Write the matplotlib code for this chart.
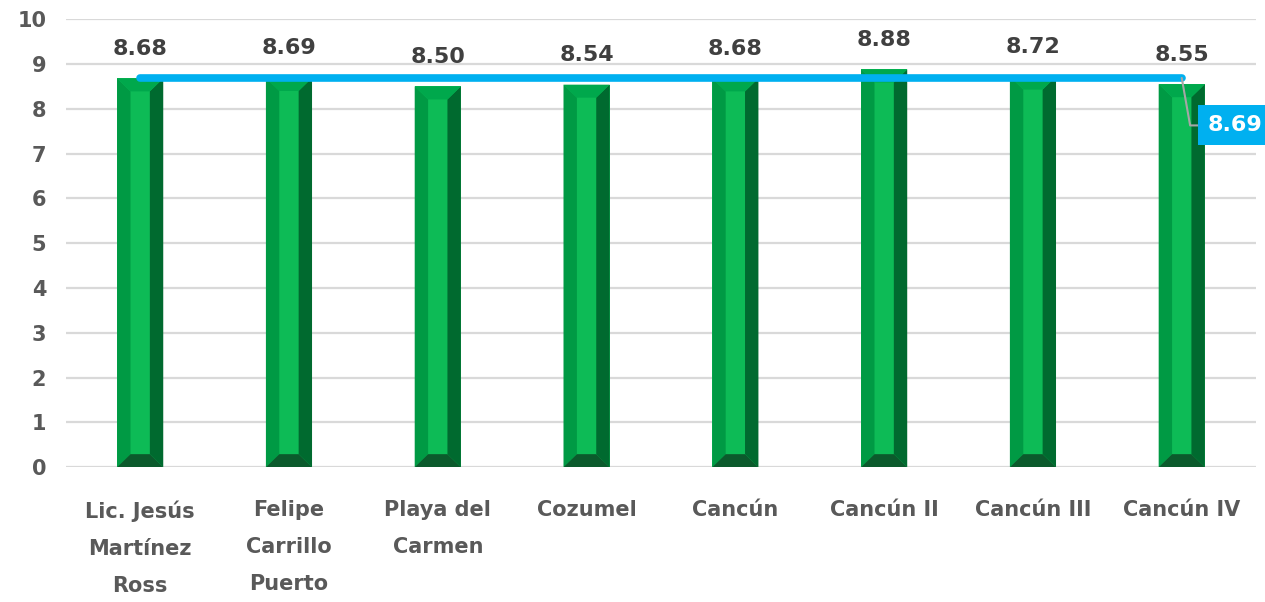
#!/usr/bin/env python3
"""Bevelled green bar chart with average line."""

import matplotlib

matplotlib.use('Agg')
import matplotlib.pyplot as plt
from matplotlib.patches import Polygon

categories = ['Lic. Jesús\nMartínez\nRoss', 'Felipe\nCarrillo\nPuerto', 'Playa del\nCarmen',
              'Cozumel', 'Cancún', 'Cancún II', 'Cancún III', 'Cancún IV']
values = [8.68, 8.69, 8.50, 8.54, 8.68, 8.88, 8.72, 8.55]
average = 8.69
yticks = list(range(0, 11))

plt.rcParams['font.family'] = ['DejaVu Sans']
TXT = '#404040'
TICK = '#595959'

fig = plt.figure(figsize=(12.65, 6.02), dpi=100)
ax = fig.add_axes([0.052, 0.224, 0.941, 0.744])
ax.set_xlim(-0.5, len(values) - 0.5)
ax.set_ylim(0, 10)

ax.set_yticks(yticks)
ax.grid(axis='y', color='#D9D9D9', linewidth=1.6, zorder=0)
ax.set_axisbelow(True)
for s in ax.spines.values():
    s.set_visible(False)
ax.tick_params(axis='y', length=0, labelsize=15, labelcolor=TICK, pad=14)
ax.tick_params(axis='x', length=0, labelsize=15, labelcolor=TICK, pad=24)
for lab in ax.get_yticklabels():
    lab.set_fontweight('bold')

w = 0.31
bx = 0.09   # bevel width in category units
by = 0.29   # bevel height in value units
xs = range(len(values))
ax.bar(xs, values, width=w, color='#0DBB56', zorder=2)
for x, v in zip(xs, values):
    l, r = x - w / 2, x + w / 2
    faces = [
        ([(l, 0), (l + bx, by), (l + bx, v - by), (l, v)], '#009A44'),
        ([(r, 0), (r - bx, by), (r - bx, v - by), (r, v)], '#006A2F'),
        ([(l, v), (r, v), (r - bx, v - by), (l + bx, v - by)], '#00A84C'),
        ([(l, 0), (r, 0), (r - bx, by), (l + bx, by)], '#0B5A2C'),
    ]
    for pts, c in faces:
        ax.add_patch(Polygon(pts, closed=True, facecolor=c, edgecolor='none', zorder=3))
    ax.annotate(f'{v:.2f}', (x, v), xytext=(0, 14), textcoords='offset points',
                ha='center', va='bottom', fontsize=16, fontweight='bold', color=TXT)

ax.plot([0, len(values) - 1], [average, average], color='#00B0F0', linewidth=5.5,
        solid_capstyle='round', zorder=4)
ax.annotate(f'{average:.2f}', (len(values) - 1, average), xytext=(7.36, 7.63),
            textcoords='data', ha='center', va='center', fontsize=16, fontweight='bold',
            color='white', annotation_clip=False, zorder=5,
            bbox=dict(boxstyle='square,pad=0.45', facecolor='#00B0F0', edgecolor='none'),
            arrowprops=dict(arrowstyle='-', color='#A6A6A6', linewidth=1.5,
                            connectionstyle='angle,angleA=0,angleB=100,rad=0',
                            shrinkA=0, shrinkB=0))

ax.set_xticks(list(xs))
ax.set_xticklabels(categories, fontsize=15, fontweight='bold', color=TICK,
                   linespacing=2.05, va='top')

fig.savefig('out.png', dpi=100)
